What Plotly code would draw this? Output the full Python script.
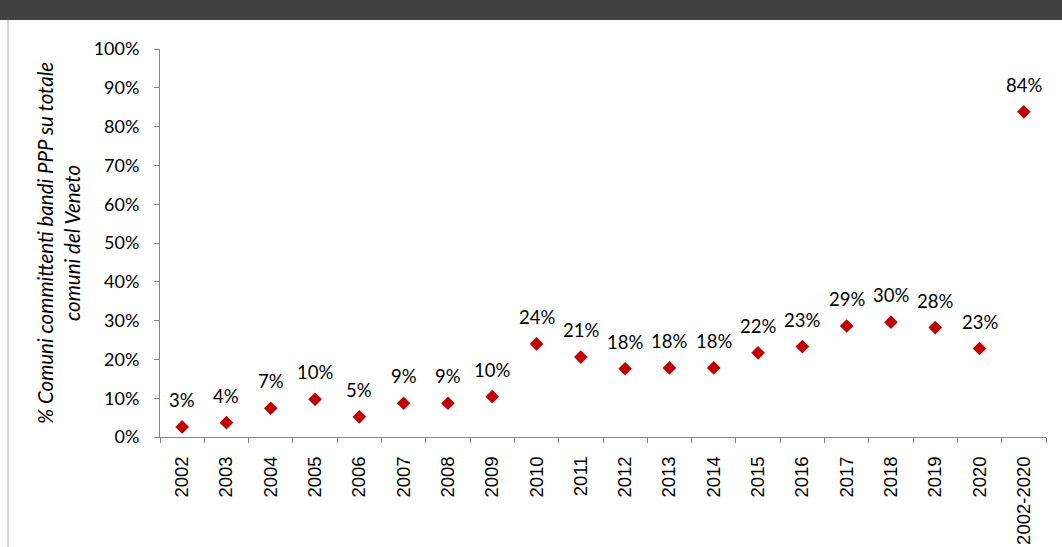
import plotly.graph_objects as go

# categories and values (share of Veneto comuni)
years = ["2002", "2003", "2004", "2005", "2006", "2007", "2008", "2009", "2010", "2011",
         "2012", "2013", "2014", "2015", "2016", "2017", "2018", "2019", "2020", "2002-2020"]
share = [0.026, 0.037, 0.074, 0.097, 0.052, 0.087, 0.087, 0.104, 0.240, 0.206,
         0.176, 0.178, 0.178, 0.217, 0.233, 0.286, 0.296, 0.282, 0.228, 0.838]
y_title = "% Comuni committenti bandi PPP su totale<br>comuni del Veneto"

W, H = 1062, 547
L, R, T, B = 160, 16, 49, 110
pw, ph = W - L - R, H - T - B

CAL = "Lato, Calibri, sans-serif"
labels = [f"{round(v * 100):.0f}%" for v in share]

fig = go.Figure()
fig.add_trace(go.Scatter(
    x=years, y=share,
    mode="markers",
    marker=dict(symbol="diamond", size=10.5, color="#C00000"),
    cliponaxis=False,
    hoverinfo="x+y",
    showlegend=False,
))

# data labels sit well above each marker, as in the Excel original
# (category index is used because "2002" would be read as a number)
for i, (v, lab) in enumerate(zip(share, labels)):
    fig.add_annotation(x=i, y=v, text=lab, showarrow=False,
                       yanchor="middle", yshift=27,
                       font=dict(family=CAL, size=18.5, color="#000000"))

# dark header band and thin left frame line
fig.add_shape(type="rect", xref="paper", yref="paper",
              x0=-L / pw, x1=1 + R / pw, y0=1 + (T - 20) / ph, y1=1 + T / ph,
              fillcolor="#404040", line=dict(width=0), layer="above")
fig.add_shape(type="line", xref="paper", yref="paper",
              x0=(8 - L) / pw, x1=(8 - L) / pw, y0=-B / ph, y1=1 + (T - 20) / ph,
              line=dict(color="#A6A6A6", width=1))

fig.update_layout(
    width=W, height=H,
    margin=dict(l=L, r=R, t=T, b=B),
    paper_bgcolor="white", plot_bgcolor="white",
    xaxis=dict(
        type="category", range=[-0.5, len(years) - 0.5], automargin=False,
        showline=True, linecolor="#868686", linewidth=1,
        ticks="outside", ticklen=5, tickcolor="#868686", tickson="boundaries",
        tickangle=-90, ticklabelstandoff=11,
        tickfont=dict(family="Liberation Sans, Arial, sans-serif", size=18.5, color="#000000"),
        showgrid=False, zeroline=False,
    ),
    yaxis=dict(
        range=[0, 1], dtick=0.1, tickformat=".0%", automargin=False,
        showline=True, linecolor="#868686", linewidth=1,
        ticks="outside", ticklen=5, tickcolor="#868686", ticklabelstandoff=11,
        tickfont=dict(family=CAL, size=18, color="#000000"),
        showgrid=False, zeroline=False,
        title=dict(text=f"<i>{y_title}</i>",
                   font=dict(family=CAL, size=20.5, color="#000000"),
                   standoff=7),
    ),
)

fig.write_html("out.html", config={"displayModeBar": False},
               post_script="document.body.style.margin='0';")
